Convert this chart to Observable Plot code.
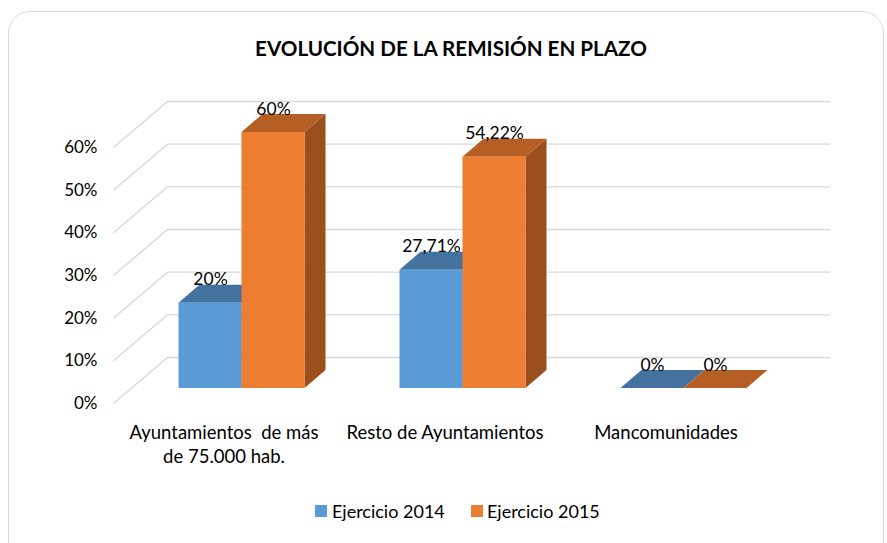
<!DOCTYPE html>
<html>
<head>
<meta charset="utf-8">
<script src="https://cdn.jsdelivr.net/npm/d3@7"></script>
<script src="https://cdn.jsdelivr.net/npm/@observablehq/plot@0.6"></script>
<style>
  html, body { margin: 0; padding: 0; background: #fff; }
  #wrap { position: relative; width: 887px; height: 543px; overflow: hidden; font-family: Lato, "Open Sans", sans-serif; color: #000; }
  #card { position: absolute; left: 8px; top: 11px; width: 876px; height: 580px; border: 1.5px solid #d9d9d9; border-radius: 22px; box-sizing: border-box; }
  #chart { position: absolute; left: 0; top: 0; }
  #title { position: absolute; left: 0; top: 33px; width: 902px; text-align: center; font-weight: 700; font-size: 20.6px; line-height: 30px; white-space: nowrap; }
  .lg { position: absolute; font-size: 18px; line-height: 20px; white-space: nowrap; }
  .sw { position: absolute; width: 12px; height: 12px; }
</style>
</head>
<body>
<div id="wrap">
  <div id="card"></div>
  <div id="chart"></div>
  <div id="title">EVOLUCIÓN DE LA REMISIÓN EN PLAZO</div>
  <div id="legend"></div>
</div>
<script>
// ---- data ----
const categories = ["Ayuntamientos  de más de 75.000 hab.", "Resto de Ayuntamientos", "Mancomunidades"];
const categoryLabels = ["Ayuntamientos  de más\nde 75.000 hab.", "Resto de Ayuntamientos", "Mancomunidades"];
const series = ["Ejercicio 2014", "Ejercicio 2015"];
const values2014 = [0.20, 0.2771, 0];
const values2015 = [0.60, 0.5422, 0];
const yTicks = [0, 0.1, 0.2, 0.3, 0.4, 0.5, 0.6];

// ---- styles / layout ----
const frontColors = ["#5B9BD5", "#ED7D31"];
const topColors = ["#43729F", "#B65F24"];
const sideColors = ["#3E6A94", "#9A4F1D"];
const gridColor = "#d9d9d9";
const X0 = 131, X1 = 794, Y0 = 388, Y1 = 132;
const pxPerX = (X1 - X0) / 3;
const pxPerY = (Y0 - Y1) / 0.6;
const barW = 63 / pxPerX;             // bar width in x units
const depthX = 21 / pxPerX, depthY = 18 / pxPerY;   // bar depth in data units
const frontX = -18 / pxPerX, frontY = -15 / pxPerY; // front (axis) plane offset
const backX = 36 / pxPerX, backY = 31 / pxPerY;     // back wall offset

const fmt = v => {
  const s = (v * 100).toFixed(2).replace(".", ",").replace(/,00$/, "");
  return s + "%";
};

const bars = [];
categories.forEach((c, i) => {
  [values2014, values2015].forEach((vals, s) => {
    const x1 = s === 0 ? i - barW : i;
    bars.push({cat: c, s, key: c + "|" + s, x1, x2: x1 + barW, v: vals[i]});
  });
});
const topPts = bars.flatMap(b => [
  {key: b.key, s: b.s, y: b.v, x1: b.x1, x2: b.x2},
  {key: b.key, s: b.s, y: b.v + depthY, x1: b.x1 + depthX, x2: b.x2 + depthX}
]);
const sidePts = bars.flatMap(b => [
  {key: b.key, s: b.s, x: b.x2, y1: 0, y2: b.v},
  {key: b.key, s: b.s, x: b.x2 + depthX, y1: depthY, y2: b.v + depthY}
]);

const plot = Plot.plot({
  width: 887,
  height: 543,
  margin: 0,
  style: {background: "transparent", fontFamily: "Lato, 'Open Sans', sans-serif", fontSize: "17px", color: "#000"},
  x: {domain: [-0.5, 2.5], range: [X0, X1], axis: null},
  y: {domain: [0, 0.6], range: [Y0, Y1], axis: null},
  color: {type: "identity"},
  marks: [
    // back wall gridlines
    Plot.ruleY(yTicks, {y: d => d, x1: () => -0.5 + backX, x2: () => 2.5 + backX, dy: -31, stroke: gridColor, strokeWidth: 1.4}),
    // side wall diagonals
    Plot.link(yTicks, {
      x1: () => -0.5 + frontX, y1: d => d + frontY,
      x2: () => -0.5 + backX, y2: d => d + backY,
      stroke: gridColor, strokeWidth: 1.4
    }),
    // side faces
    Plot.area(sidePts, {x1: "x", y1: "y1", y2: "y2", z: "key", fill: d => sideColors[d.s], curve: "linear"}),
    // top faces
    Plot.area(topPts, {y1: "y", x1: "x1", x2: "x2", z: "key", fill: d => topColors[d.s], curve: "linear"}),
    // front faces
    Plot.rect(bars, {x1: "x1", x2: "x2", y1: () => 0, y2: "v", fill: d => frontColors[d.s]}),
    // value labels
    Plot.text(bars, {x: d => (d.x1 + d.x2) / 2, y: "v", dy: -18, text: d => fmt(d.v), lineAnchor: "bottom", fontSize: 17.5, fill: "#000"}),
    // y tick labels (front plane)
    Plot.text(yTicks, {x: () => -0.5, y: d => d, dx: -34, dy: 15, text: d => Math.round(d * 100) + "%", textAnchor: "end", lineAnchor: "middle", fontSize: 17, fill: "#000"}),
    // category labels
    Plot.text(categoryLabels, {x: (d, i) => i, y: () => 0, dx: -18, dy: 33, text: d => d, lineAnchor: "top", lineHeight: 1.31, fontSize: 18.5, fill: "#000"})
  ]
});
document.getElementById("chart").appendChild(plot);

// legend
const legend = document.getElementById("legend");
const legendPos = [{sw: 315, tx: 332}, {sw: 471, tx: 487}];
series.forEach((name, s) => {
  const sw = document.createElement("div");
  sw.className = "sw";
  sw.style.left = legendPos[s].sw + "px";
  sw.style.top = "505px";
  sw.style.background = frontColors[s];
  legend.appendChild(sw);
  const t = document.createElement("div");
  t.className = "lg";
  t.style.left = legendPos[s].tx + "px";
  t.style.top = "501px";
  t.textContent = name;
  legend.appendChild(t);
});
</script>
</body>
</html>
